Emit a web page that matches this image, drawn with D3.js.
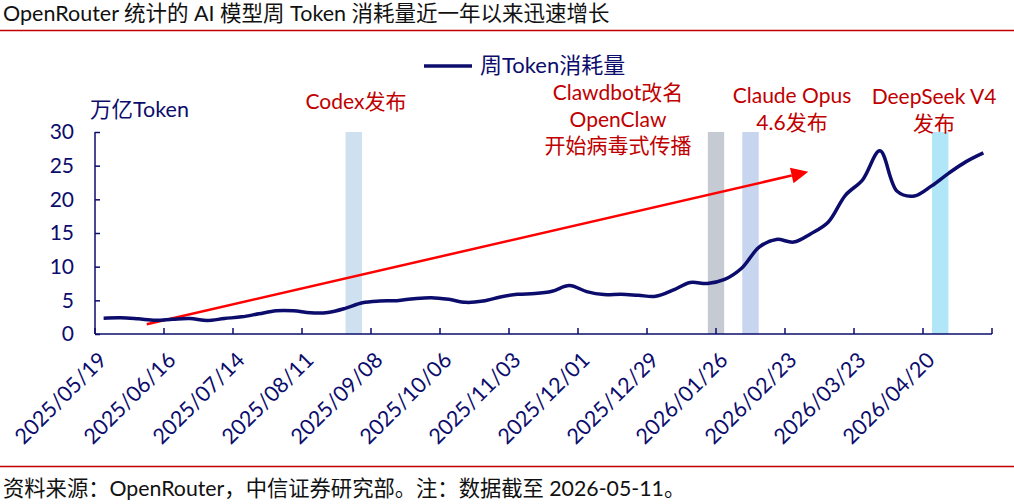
<!DOCTYPE html>
<html>
<head>
<meta charset="utf-8">
<script src="https://cdn.jsdelivr.net/npm/d3@7"></script>
<style>
  html, body { margin: 0; padding: 0; background: #fff; }
  svg { display: block; font-family: Lato, "Noto Sans CJK SC", sans-serif; }
</style>
</head>
<body>
<div id="draw_svg"></div>
<script>
// 周数据（2025/05/19 - 2026/05/11），单位：万亿 Token
const weeks = [
  '2025/05/19','2025/05/26','2025/06/02','2025/06/09','2025/06/16','2025/06/23','2025/06/30',
  '2025/07/07','2025/07/14','2025/07/21','2025/07/28','2025/08/04','2025/08/11','2025/08/18',
  '2025/08/25','2025/09/01','2025/09/08','2025/09/15','2025/09/22','2025/09/29','2025/10/06',
  '2025/10/13','2025/10/20','2025/10/27','2025/11/03','2025/11/10','2025/11/17','2025/11/24',
  '2025/12/01','2025/12/08','2025/12/15','2025/12/22','2025/12/29','2026/01/05','2026/01/12',
  '2026/01/19','2026/01/26','2026/02/02','2026/02/09','2026/02/16','2026/02/23','2026/03/02',
  '2026/03/09','2026/03/16','2026/03/23','2026/03/30','2026/04/06','2026/04/13','2026/04/20',
  '2026/04/27','2026/05/04','2026/05/11'
];
const tokens = [
  2.35, 2.4, 2.25, 2.05, 2.2, 2.3, 2.0, 2.3, 2.55, 3.0, 3.45, 3.45, 3.15, 3.2, 3.8,
  4.65, 4.9, 4.95, 5.25, 5.4, 5.15, 4.7, 4.9, 5.5, 5.9, 6.0, 6.35, 7.2,
  6.3, 5.85, 5.9, 5.75, 5.6, 6.5, 7.65, 7.5, 8.1, 9.8, 12.9,
  14.05, 13.65, 14.9, 16.6, 20.6, 22.9, 27.2, 21.2, 20.5, 22.0, 23.9, 25.6, 26.9
];
const yTicks = [0, 5, 10, 15, 20, 25, 30];
const labelEvery = 4;

// 事件色块：落在对应周的起始边界
const eventWeeks = ['2025/09/01', '2026/01/26', '2026/02/09', '2026/04/27'];
const eventColors = ['#cfe0f1', '#c5cad3', '#c7d5ee', '#b0e6f8'];
const eventTexts = [
  ['Codex发布'],
  ['Clawdbot改名', 'OpenClaw', '开始病毒式传播'],
  ['Claude Opus', '4.6发布'],
  ['DeepSeek V4', '发布']
];

// 趋势箭头：[周序号, 数值]
const trendFrom = [2.5, 1.45];
const trendTo = [40.85, 24.1];

const W = 1014, H = 504;
const mL = 95, mR = 992, mT = 132, mB = 334;
const navy = '#0c0c6c', red = '#c00000';

const svg = d3.select('#draw_svg').append('svg')
  .attr('width', W).attr('height', H);

// 标题与分隔线
svg.append('text').attr('x', 3).attr('y', 21)
  .attr('font-size', 21.5).attr('fill', '#111')
  .text('OpenRouter 统计的 AI 模型周 Token 消耗量近一年以来迅速增长');
svg.append('line').attr('x1', 0).attr('x2', W).attr('y1', 30.5).attr('y2', 30.5)
  .attr('stroke', red).attr('stroke-width', 1.5);
svg.append('line').attr('x1', 0).attr('x2', W).attr('y1', 466.5).attr('y2', 466.5)
  .attr('stroke', red).attr('stroke-width', 1.5);
svg.append('text').attr('x', 3).attr('y', 496)
  .attr('font-size', 21.3).attr('fill', '#111')
  .text('资料来源：OpenRouter，中信证券研究部。注：数据截至 2026-05-11。');

const x = d3.scaleBand().domain(weeks).range([mL, mR]).padding(0);
const bw = x.bandwidth();
const xi = d3.scaleLinear().domain([0, weeks.length - 1])
  .range([x(weeks[0]) + bw / 2, x(weeks[weeks.length - 1]) + bw / 2]);
const y = d3.scaleLinear().domain([0, 30]).range([mB, mT]);

// 事件色块
const ew = bw * 0.95;
svg.append('g').selectAll('rect').data(eventWeeks).enter().append('rect')
  .attr('x', d => x(d) - ew / 2)
  .attr('y', y(30))
  .attr('width', ew)
  .attr('height', y(0) - y(30))
  .attr('fill', (d, i) => eventColors[i]);

// 坐标轴
const yAxis = d3.axisLeft(y).tickValues(yTicks).tickSize(-5).tickPadding(21);
const gy = svg.append('g').attr('transform', `translate(${mL},0)`).call(yAxis);
gy.select('.domain').attr('stroke', navy).attr('stroke-width', 1.5).attr('d', `M0,${mT}V${mB}`);
gy.selectAll('.tick line').attr('stroke', navy).attr('stroke-width', 1.5);
gy.selectAll('.tick text').attr('fill', navy).attr('font-size', 21)
  .attr('font-family', 'Lato, sans-serif');

const gx = svg.append('g');
gx.append('line').attr('x1', mL).attr('x2', mR).attr('y1', mB).attr('y2', mB)
  .attr('stroke', navy).attr('stroke-width', 1.5);
const tickIdx = d3.range(0, weeks.length + 1, labelEvery);
gx.selectAll('line.tk').data(tickIdx).enter().append('line').attr('class', 'tk')
  .attr('x1', d => mL + d * bw).attr('x2', d => mL + d * bw)
  .attr('y1', mB).attr('y2', mB - 6)
  .attr('stroke', navy).attr('stroke-width', 1.5);
gx.selectAll('text').data(weeks.filter((d, i) => i % labelEvery === 0)).enter().append('text')
  .attr('transform', d => `translate(${x(d) + bw / 2 - 1},${mB + 22}) rotate(-45)`)
  .attr('text-anchor', 'end')
  .attr('dy', '0.35em')
  .attr('font-size', 21.5)
  .attr('fill', navy)
  .text(d => d);

// 单位
svg.append('text').attr('x', 90).attr('y', 117).attr('font-size', 21.5).attr('fill', navy)
  .text('万亿Token');

// 图例
svg.append('line').attr('x1', 424).attr('x2', 472).attr('y1', 66).attr('y2', 66)
  .attr('stroke', navy).attr('stroke-width', 3.5);
svg.append('text').attr('x', 480).attr('y', 73).attr('font-size', 22).attr('fill', navy)
  .text('周Token消耗量');

// 趋势箭头
const ax1 = xi(trendFrom[0]), ay1 = y(trendFrom[1]);
const ax2 = xi(trendTo[0]), ay2 = y(trendTo[1]);
const ang = Math.atan2(ay2 - ay1, ax2 - ax1);
const headL = 17, headW = 8;
const bx = ax2 - headL * Math.cos(ang), by = ay2 - headL * Math.sin(ang);
svg.append('line').attr('x1', ax1).attr('y1', ay1).attr('x2', bx).attr('y2', by)
  .attr('stroke', '#ff0000').attr('stroke-width', 2.5);
svg.append('path')
  .attr('d', `M${ax2},${ay2}L${bx + headW * Math.sin(ang)},${by - headW * Math.cos(ang)}L${bx - headW * Math.sin(ang)},${by + headW * Math.cos(ang)}Z`)
  .attr('fill', '#ff0000');

// 消耗量曲线
const line = d3.line()
  .x((d, i) => x(weeks[i]) + bw / 2)
  .y(d => y(d))
  .curve(d3.curveCatmullRom.alpha(0.5));
svg.append('path').datum(tokens).attr('d', line)
  .attr('fill', 'none').attr('stroke', navy).attr('stroke-width', 3.5)
  .attr('stroke-linejoin', 'round');

// 事件标注
const textPos = [[356, 109], [618, 100], [792, 103], [934, 104]];
eventTexts.forEach((lines, i) => {
  const t = svg.append('text').attr('text-anchor', 'middle').attr('font-size', 21).attr('fill', red);
  lines.forEach((s, j) => {
    t.append('tspan').attr('x', textPos[i][0]).attr('y', textPos[i][1] + j * 26.5).text(s);
  });
});
</script>
</body>
</html>
